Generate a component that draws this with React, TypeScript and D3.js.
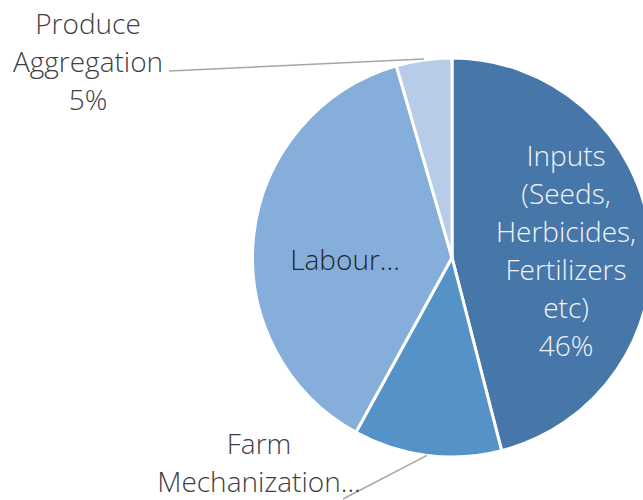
import React, { useEffect, useRef } from "react";
import * as d3 from "d3";

// data
const categories = [
  "Inputs (Seeds, Herbicides, Fertilizers etc)",
  "Farm Mechanization",
  "Labour",
  "Produce Aggregation",
];
const shares = [46, 12, 37.5, 4.5];
const colors = ["#4677a8", "#5592c8", "#86aedb", "#b7cce8"];
// label lines as shown in the chart
const labelLines = [
  ["Inputs", "(Seeds,", "Herbicides,", "Fertilizers", "etc)", "46%"],
  ["Farm", "Mechanization..."],
  ["Labour..."],
  ["Produce", "Aggregation", "5%"],
];

const App = () => {
  const ref = useRef<SVGSVGElement>(null);

  useEffect(() => {
    const width = 643;
    const height = 500;
    const cx = 452;
    const cy = 257.5;
    const radius = 199.5;
    const fontSize = 28;
    const lineH = 38;

    const svg = d3.select(ref.current);
    svg.selectAll("*").remove();

    const pie = d3
      .pie<number>()
      .sort(null)
      .value((d) => d)
      .startAngle(0)
      .endAngle(2 * Math.PI);
    const arcs = pie(shares);
    const arc = d3.arc<d3.PieArcDatum<number>>().innerRadius(0).outerRadius(radius);

    const g = svg.append("g").attr("transform", `translate(${cx},${cy})`);

    g.selectAll("path")
      .data(arcs)
      .enter()
      .append("path")
      .attr("d", arc)
      .attr("fill", (d, i) => colors[i])
      .attr("stroke", "#ffffff")
      .attr("stroke-width", 3)
      .attr("stroke-linejoin", "round");

    const edge = (d: d3.PieArcDatum<number>) => {
      const a = (d.startAngle + d.endAngle) / 2;
      return [radius * Math.sin(a), -radius * Math.cos(a)];
    };

    const drawLines = (lines: string[], x: number, yFirst: number, fill: string) => {
      const t = g
        .append("text")
        .attr("text-anchor", "middle")
        .attr("font-family", "'Open Sans', sans-serif")
        .attr("font-weight", 300)
        .attr("font-size", fontSize)
        .attr("fill", fill);
      lines.forEach((l, i) => {
        t.append("tspan").attr("x", x).attr("y", yFirst + i * lineH).text(l);
      });
    };

    // inside labels
    drawLines(labelLines[0], 566 - cx, 166 - cy, "#f2f4f8");
    drawLines(labelLines[2], 345 - cx, 270 - cy, "#262626");

    // leader lines for outside labels
    const leader = d3.line();
    const [fx, fy] = edge(arcs[1]);
    const [px, py] = edge(arcs[3]);
    g.append("path")
      .attr("d", leader([[343 - cx, 499 - cy], [fx, fy]]))
      .attr("stroke", "#a6a6a6")
      .attr("stroke-width", 1.5)
      .attr("fill", "none");
    g.append("path")
      .attr("d", leader([[169 - cx, 71 - cy], [px, py - 1]]))
      .attr("stroke", "#a6a6a6")
      .attr("stroke-width", 1.5)
      .attr("fill", "none");

    drawLines(labelLines[1], 259 - cx, 454 - cy, "#404040");
    drawLines(labelLines[3], 88 - cx, 34 - cy, "#404040");

    svg.attr("width", width).attr("height", height);
  }, []);

  return (
    <svg
      ref={ref}
      width={643}
      height={500}
      style={{ position: "absolute", left: 0, top: 0, background: "#ffffff" }}
    />
  );
};

export default App;
